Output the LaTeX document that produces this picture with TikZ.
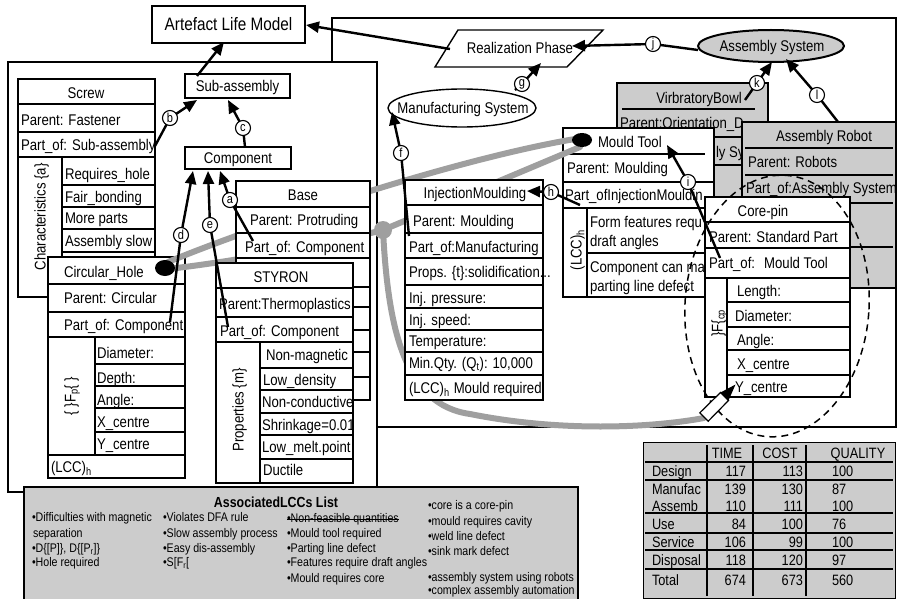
\documentclass[tikz,border=0pt]{standalone}
\usepackage{fontspec}
\setmainfont{Liberation Sans}[FakeStretch=0.85]
\usetikzlibrary{arrows.meta}
\begin{document}
\begin{tikzpicture}[x=1pt,y=-1pt,
  every node/.style={inner sep=0pt, outer sep=0pt},
  tx/.style={font=\fontsize{15.5}{17}\selectfont, text height=11pt, text depth=0pt, anchor=west},
  txc/.style={tx, anchor=center},
  txv/.style={tx, anchor=center, rotate=90},
  box/.style={draw, line width=1.4pt, fill=white},
  shadebox/.style={draw, line width=1.4pt, fill=gray!40},
  rows/.style={line width=1.4pt},
  frame/.style={draw, line width=2.6pt},
  arr/.style={line width=2.4pt, line join=round, -{Triangle[length=13pt,width=11pt]}},
  lbl/.style={circle, draw, line width=1.1pt, fill=white, minimum size=15pt, font=\fontsize{13}{13}\selectfont},
  band/.style={line width=6pt, draw=gray!75, line cap=round},
  lt/.style={font=\fontsize{12.5}{14}\selectfont, text height=9pt, text depth=0pt, anchor=west},
  tb/.style={font=\fontsize{15}{16}\selectfont, text height=10.7pt, text depth=0pt},
]
\clip (0,0) rectangle (900,599);
\useasboundingbox (0,0) rectangle (900,599);

% ---------- frames ----------
\draw[frame] (332,18) rectangle (896,427);
\draw[frame, fill=white] (8,62) rectangle (377,492);

% ---------- top model ----------
\node[draw, line width=2.6pt, minimum width=153pt, minimum height=37pt,
      font=\fontsize{18}{19}\selectfont, text height=12.9pt, text depth=0pt] (alm) at (228.5,24.5) {Artefact Life Model};

% ---------- Screw ----------
\draw[box] (18,79) rectangle (155,297);
\draw[rows] (18,104) -- (155,104) (18,132) -- (155,132) (18,157) -- (155,157)
  (62,157) -- (62,297) (62,185) -- (155,185) (62,207) -- (155,207)
  (62,229) -- (155,229) (62,252) -- (155,252);
\node[txc] (screwT) at (86,93) {Screw};
\node[tx] (screwPa) at (21,120) {Parent:\hspace{5pt}Fastener};
\node[tx] (screwPo) at (21,145) {Part\_of: Sub-assembly};
\node[tx] (ch1) at (65,174) {Requires\_hole};
\node[tx] (ch2) at (65,197) {Fair\_bonding};
\node[tx] (ch3) at (65,218) {More parts};
\node[tx] (ch4) at (65,241) {Assembly slow};
\node[txv] (chars) at (40,217) {Characteristics \{a\}};

% ---------- Circular hole ----------
\draw[box] (48,257) rectangle (185,478);
\draw[rows] (48,284) -- (185,284) (48,312) -- (185,312) (48,337) -- (185,337) (48,455) -- (185,455)
  (95,337) -- (95,455) (95,364) -- (185,364) (95,386) -- (185,386)
  (95,408) -- (185,408) (95,432) -- (185,432);
\node[tx] (holeT) at (64,272) {Circular\_Hole};
\node[tx] (holePa) at (64,298) {Parent:\hspace{5pt}Circular};
\node[tx] (holePo) at (64,325) {Part\_of:\hspace{5pt}Component};
\node[tx] (hf1) at (97,353) {Diameter:};
\node[tx] (hf2) at (97,378) {Depth:};
\node[tx] (hf3) at (97,400) {Angle:};
\node[tx] (hf4) at (97,422) {X\_centre};
\node[tx] (hf5) at (97,444) {Y\_centre};
\node[tx] (holeL) at (51,467) {(LCC)\textsubscript{h}};
\node[txv] (holeF) at (70,396) {\{ \}F\textsubscript{p}\{ \}};

% ---------- Vibratory bowl and mould tool ----------
\draw[shadebox] (617,83) rectangle (768,260);
\draw[rows] (622,109) -- (755,109) (617,137) -- (768,137) (617,165) -- (768,165);
\node[txc] (vbT) at (699,98) {VirbratoryBowl};
\begin{scope}
  \clip (617,109) rectangle (742,260);
  \node[tx] (vbPa) at (620,123) {Parent:Orientation\_Device};
  \node[tx] (vbPo) at (716,152) {ly Sy};
\end{scope}

\draw[box] (563,128) rectangle (714,297);
\draw[rows] (563,154) -- (705,154) (563,182) -- (714,182) (563,208) -- (714,208)
  (587,208) -- (587,297) (587,253) -- (714,253);
\begin{scope}
  \clip (563,128) rectangle (705,297);
  \node[tx] (mtT) at (598,142) {Mould Tool};
  \node[tx] (mtPa) at (567,168) {Parent:\hspace{5pt}Moulding};
  \node[tx] (mtPo) at (565,195) {Part\_ofInjectionMouldin};
  \node[tx] (mtL1) at (590,222) {Form features requ};
  \node[tx] (mtL2) at (590,241) {draft angles};
  \node[tx] (mtL3) at (590,267) {Component can ma};
  \node[tx] (mtL4) at (590,286) {parting line defect};
  \node[txv] (mtL) at (576,250) {(LCC)\textsubscript{h}};
\end{scope}

% ---------- linkage bands ----------
\coordinate (blob) at (383,230);
\draw[band] (168,262) .. controls (250,228) and (450,160) .. (575,139);
\draw[band] (168,269) .. controls (230,262) and (320,246) .. (blob) -- (580,147);
\fill[gray!75] (blob) circle (9);
\draw[band] (blob) .. controls (388,330) and (405,405) .. (470,414)
  .. controls (560,432) and (650,428) .. (704,418);
\fill (165,268) ellipse [x radius=10, y radius=8];
\fill (582,140) ellipse [x radius=10, y radius=7];

% ---------- Base ----------
\draw[box] (236,181) rectangle (370,400);
\draw[rows] (236,207) -- (370,207) (236,233) -- (370,233) (236,258) -- (370,258)
  (300,287) -- (370,287) (300,307) -- (370,307) (300,330) -- (370,330)
  (300,352) -- (370,352) (300,377) -- (370,377);
\node[txc] (baseT) at (303,195) {Base};
\node[tx] (basePa) at (250,220) {Parent:\hspace{5pt}Protruding};
\node[tx] (basePo) at (245,247) {Part\_of:\hspace{5pt}Component};

% ---------- STYRON ----------
\draw[box] (216,263) rectangle (353,483);
\draw[rows] (216,288) -- (353,288) (216,317) -- (353,317) (216,342) -- (353,342)
  (260,342) -- (260,483) (260,368) -- (353,368) (260,390) -- (353,390)
  (260,413) -- (353,413) (260,435) -- (353,435) (260,459) -- (353,459);
\node[txc] (styT) at (281,277) {STYRON};
\node[tx] (styPa) at (219,304) {Parent:Thermoplastics};
\node[tx] (styPo) at (220,331) {Part\_of: Component};
\node[tx] (sp1) at (266,355) {Non-magnetic};
\node[tx] (sp2) at (263,380) {Low\_density};
\node[tx] (sp3) at (262,402) {Non-conductive};
\node[tx] (sp4) at (262,425) {Shrinkage=0.01};
\node[tx] (sp5) at (262,447) {Low\_melt.point};
\node[tx] (sp6) at (263,470) {Ductile};
\node[txv] (styP) at (238,410) {Properties \{m\}};

% ---------- Injection moulding ----------
\draw[box] (405,180) rectangle (543,400);
\draw[rows] (405,205) -- (543,205) (405,233) -- (543,233) (405,258) -- (543,258)
  (405,285) -- (543,285) (405,308) -- (543,308) (405,330) -- (543,330)
  (405,352) -- (543,352) (405,375) -- (543,375);
\node[txc] (imT) at (475,193) {InjectionMoulding};
\node[tx] (imPa) at (413,221) {Parent:\hspace{5pt}Moulding};
\node[tx] (imPo) at (409,247) {Part\_of:Manufacturing};
\node[tx] (im1) at (409,272) {Props. \{t\}:solidification...};
\node[tx] (im2) at (409,298) {Inj. pressure:};
\node[tx] (im3) at (409,320) {Inj. speed:};
\node[tx] (im4) at (409,341) {Temperature:};
\node[tx] (im5) at (409,363) {Min.Qty. (Q\textsubscript{t}): 10,000};
\node[tx] (im6) at (409,388) {(LCC)\textsubscript{h}\hspace{4pt}Mould required};

% ---------- Sub-assembly and component ----------
\node[draw, line width=1.4pt, minimum width=105pt, minimum height=24pt,
      font=\fontsize{15.5}{17}\selectfont, text height=11pt, text depth=0pt] (sub) at (237.5,86) {Sub-assembly};
\node[draw, line width=1.4pt, fill=white, minimum width=106pt, minimum height=22pt,
      font=\fontsize{15.5}{17}\selectfont, text height=11pt, text depth=0pt] (comp) at (238,158) {Component};

% ---------- right-hand system shapes ----------
\draw[line width=1.4pt, fill=white] (462,108) ellipse [x radius=74, y radius=19];
\node[txc] (ms) at (463,108) {Manufacturing System};
\draw[line width=1.4pt, fill=white] (458,30) -- (603,30) -- (567,67) -- (435,67) -- cycle;
\node[txc] (rp) at (520,48) {Realization Phase};
\draw[line width=2pt, fill=gray!40] (771,46) ellipse [x radius=73, y radius=16];
\node[txc] (as) at (772,46) {Assembly System};

% ---------- Assembly robot ----------
\draw[shadebox] (742,122) rectangle (896,288);
\draw[rows] (745,148) -- (893,148) (745,175) -- (893,175) (745,203) -- (893,203) (850,247) -- (893,247);
\node[txc] (arT) at (824,136) {Assembly Robot};
\node[tx] (arPa) at (748,162) {Parent: Robots};
\node[tx] (arPo) at (746,188) {Part\_of:Assembly System};

% ---------- Core-pin ----------
\draw[box] (705,197) rectangle (850,397);
\draw[rows] (705,222) -- (850,222) (705,248) -- (850,248) (705,278) -- (850,278)
  (727,278) -- (727,397) (727,302) -- (850,302) (727,327) -- (850,327)
  (727,350) -- (850,350) (727,375) -- (850,375);
\node[txc] (cpT) at (763,211) {Core-pin};
\node[tx] (cpPa) at (709,237) {Parent:\hspace{5pt}Standard Part};
\node[tx] (cpPo) at (709,263) {Part\_of:\hspace{9pt}Mould Tool};
\node[tx] (cf1) at (737,291) {Length:};
\node[tx] (cf2) at (735,316) {Diameter:};
\node[tx] (cf3) at (737,340) {Angle:};
\node[tx] (cf4) at (737,364) {X\_centre};
\node[tx] (cf5) at (735,387) {Y\_centre};
\node[txv] (cpF) at (717,323) {\}F\{\textsubscript{cp}};

% ---------- relation arrows ----------
\coordinate (almE) at (306,25);   \coordinate (rpW) at (450,49);
\coordinate (almB) at (224,42);   \coordinate (subT) at (197,76);
\coordinate (subB1) at (197,100); \coordinate (subB2) at (228,100);
\coordinate (compB1) at (193,171);\coordinate (compB2) at (208,171); \coordinate (compB3) at (220,171);
\coordinate (pb) at (170,118); \coordinate (pc) at (243,128); \coordinate (pa) at (230,200);
\coordinate (pd) at (181,235); \coordinate (pe) at (210,225); \coordinate (pf) at (401,153);
\coordinate (pg) at (522,84);  \coordinate (ph) at (551,192); \coordinate (pi) at (688,182);
\coordinate (pj) at (653,44);  \coordinate (pk) at (757,83);  \coordinate (pl) at (817,95);

\draw[arr] (rpW) -- (almE);
\draw[arr] (subT) -- (almB);
\draw[arr] (155,146) -- (pb) -- (subB1);
\draw[arr] (245,147) -- (pc) -- (subB2);
\draw[arr] (253,241) -- (pa) -- (compB3);
\draw[arr] (170,322) -- (pd) -- (compB1);
\draw[arr] (228,327) -- (pe) -- (compB2);
\draw[arr] (409,236) -- (pf) -- (392,112);
\draw[arr] (515,90) -- (pg) -- (541,63);
\draw[arr] (580,205) -- (ph) -- (527,191);
\draw[arr] (720,258) -- (pi) -- (667,145);
\draw[arr] (698,50) -- (pj) -- (572,46);
\draw[arr] (745,100) -- (pk) -- (772,62);
\draw[arr] (838,122) -- (pl) -- (786,59);

\foreach \p/\l in {pa/a,pb/b,pc/c,pd/d,pe/e,pf/f,pg/g,ph/h,pi/i,pj/j,pk/k,pl/l}
  \node[lbl] (c\l) at (\p) {\l};

% ---------- focus ring and pointer ----------
\draw[line width=1.5pt, dash pattern=on 7pt off 5pt, rotate around={-4:(777,306)}]
  (777,306) ellipse [x radius=92, y radius=131];
\draw[line width=1.2pt, fill=white] (699.8,412.8) -- (708.2,421.2) -- (728.5,400.5) -- (720.5,392.5) -- cycle;
\fill (720.5,392.5) -- (728.5,400.5) -- (735.5,384.5) -- cycle;

% ---------- life-cycle table ----------
\draw[line width=1pt, fill=gray!40] (643,442) rectangle (895,598);
\draw[rows] (707,445) -- (707,596) (753,445) -- (753,596) (806,445) -- (806,596)
  (645,462) -- (893,462) (645,480) -- (893,480) (645,513) -- (893,513)
  (645,533) -- (893,533) (645,550) -- (893,550) (645,569) -- (893,569);
\node[tb] (hT) at (727,453) {TIME};
\node[tb] (hC) at (780,453) {COST};
\node[tb] (hQ) at (858,453) {QUALITY};
\foreach \y/\n/\a/\b/\c in {471/Design/117/113/100, 489/Manufac/139/130/87, 506/Assemb/110/111/100,
   524/Use/84/100/76, 542/Service/106/99/100, 560/Disposal/118/120/97, 580/Total/674/673/560} {
  \node[tb, anchor=west] at (652,\y) {\n};
  \node[tb, anchor=east] at (746,\y) {\a};
  \node[tb, anchor=east] at (803,\y) {\b};
  \node[tb, anchor=west] at (832,\y) {\c};
}

% ---------- associated LCC list ----------
\draw[line width=1.2pt, fill=gray!40] (24,487) rectangle (578,610);
\node[font=\bfseries\fontsize{14.6}{16}\selectfont, text height=10.5pt, text depth=0pt] (lccT) at (276,502) {AssociatedLCCs List};
\node[lt] at (32,517) {•Difficulties with magnetic};
\node[lt] at (33,533) {separation};
\node[lt] at (32,548) {•D\{[P]\}, D\{[P\textsubscript{r}]\}};
\node[lt] at (32,562) {•Hole required};
\node[lt] at (163,517) {•Violates DFA rule};
\node[lt] at (163,533) {•Slow assembly process};
\node[lt] at (163,548) {•Easy dis-assembly};
\node[lt] at (163,562) {•S[F\textsubscript{r}[};
\node[lt] (nfq) at (287,518) {•Non-feasible quantities};
\draw[line width=0.9pt] ([yshift=-1pt]nfq.west) -- ([yshift=-1pt]nfq.east);
\node[lt] at (287,533) {•Mould tool required};
\node[lt] at (287,548) {•Parting line defect};
\node[lt] at (287,562) {•Features require draft angles};
\node[lt] at (287,578) {•Mould requires core};
\node[lt] at (428,505) {•core is a core-pin};
\node[lt] at (428,521) {•mould requires cavity};
\node[lt] at (428,536) {•weld line defect};
\node[lt] at (428,551) {•sink mark defect};
\node[lt] at (428,577) {•assembly system using robots};
\node[lt] at (428,590) {•complex assembly automation};
\end{tikzpicture}
\end{document}
